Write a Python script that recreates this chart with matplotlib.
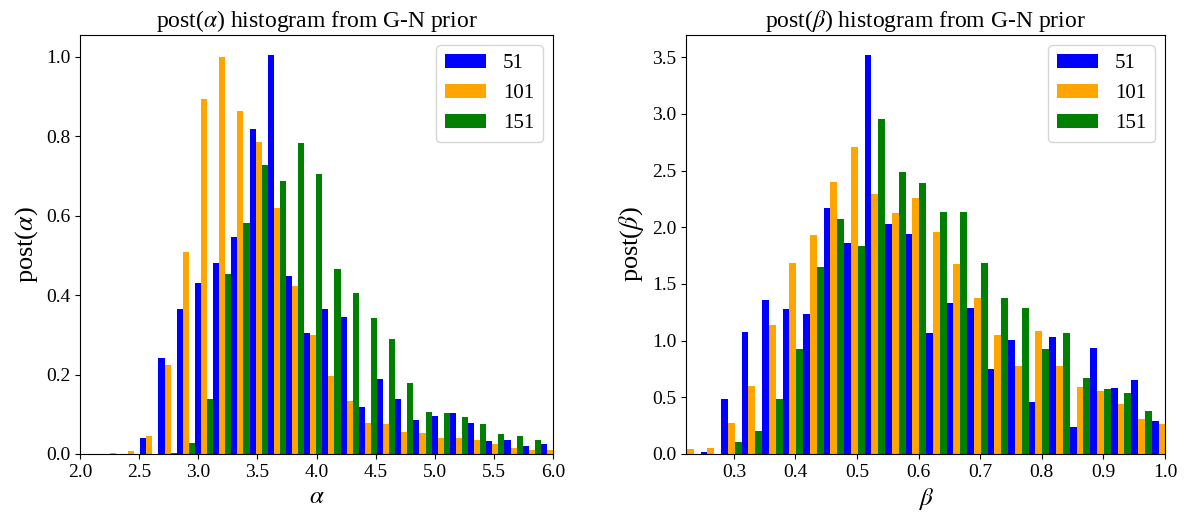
import numpy as np
import matplotlib
matplotlib.use("Agg")
import matplotlib.pyplot as plt

plt.rcParams['font.family'] = ['Liberation Serif', 'DejaVu Serif']
plt.rcParams['mathtext.fontset'] = 'stix'

# histogram bins (left edge of first bin, bin width)
alpha_start = 2.2015
alpha_width = 0.154
beta_start = 0.2125
beta_width = 0.0333

labels = ['51', '101', '151']
colors = ['blue', 'orange', 'green']

# post(alpha) heights, one value per bin
alpha_51 = [0, 0, 0.040, 0.241, 0.365, 0.431, 0.481, 0.545, 0.817, 1.004,
            0.449, 0.305, 0.365, 0.345, 0.118, 0.189, 0.138, 0.085, 0.095,
            0.103, 0.077, 0.032, 0.035, 0.019, 0.024]
alpha_101 = [0.002, 0.007, 0.045, 0.224, 0.507, 0.893, 0.999, 0.863, 0.785,
             0.618, 0.423, 0.300, 0.196, 0.133, 0.077, 0.075, 0.055, 0.052,
             0.040, 0.040, 0.035, 0.024, 0.014, 0.009, 0.009]
alpha_151 = [0, 0, 0, 0.003, 0.027, 0.138, 0.454, 0.580, 0.726, 0.686,
             0.782, 0.704, 0.466, 0.406, 0.343, 0.290, 0.178, 0.105, 0.103,
             0.093, 0.075, 0.050, 0.045, 0.035, 0.02]

# post(beta) heights
beta_51 = [0, 0.015, 0.484, 1.077, 1.360, 1.281, 1.236, 2.166, 1.865, 3.520,
           2.033, 1.944, 1.068, 1.334, 1.289, 0.749, 1.006, 0.457, 1.033,
           0.236, 0.935, 0.581, 0.652, 0.289]
beta_101 = [0.04, 0.05, 0.271, 0.599, 1.139, 1.688, 1.936, 2.396, 2.706,
            2.290, 2.130, 2.254, 1.962, 1.679, 1.378, 1.050, 0.776, 1.086,
            0.776, 0.590, 0.555, 0.440, 0.307, 0.263]
beta_151 = [0, 0, 0.103, 0.201, 0.484, 0.927, 1.652, 2.077, 1.838, 2.954,
            2.484, 2.387, 2.139, 2.139, 1.688, 1.378, 1.289, 0.927, 1.068,
            0.670, 0.572, 0.537, 0.378, 0]


def draw(ax, start, width, series, xlim, title, xlabel, ylabel):
    n = len(series[0])
    edges = start + width * np.arange(n + 1)
    centers = 0.5 * (edges[:-1] + edges[1:])
    ax.hist([centers] * 3, bins=edges, weights=series, rwidth=1.0,
            color=colors, label=labels)
    ax.set_xlim(xlim)
    ax.set_title(title, fontsize=17)
    ax.set_xlabel(xlabel, fontsize=18)
    ax.set_ylabel(ylabel, fontsize=19)
    ax.tick_params(labelsize=14)
    ax.legend(fontsize=15)


fig = plt.figure(figsize=(11.84, 5.17), dpi=100)
ax1 = fig.add_axes([80 / 1184, 1 - 454 / 517, 473 / 1184, 419 / 517])
ax2 = fig.add_axes([686 / 1184, 1 - 454 / 517, 479 / 1184, 419 / 517])

draw(ax1, alpha_start, alpha_width, [alpha_51, alpha_101, alpha_151],
     (2.0, 6.0), r'post($\alpha$) histogram from G-N prior',
     r'$\alpha$', r'post($\alpha$)')
draw(ax2, beta_start, beta_width, [beta_51, beta_101, beta_151],
     (0.2222, 1.0), r'post($\beta$) histogram from G-N prior',
     r'$\beta$', r'post($\beta$)')

fig.savefig('out.png', dpi=100)
